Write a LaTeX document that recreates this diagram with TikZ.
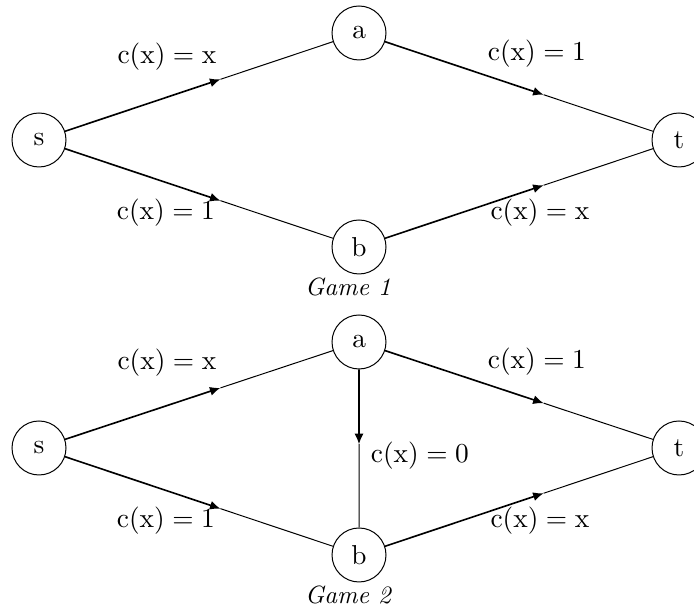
\documentclass[tikz,border=0pt]{standalone}
\usetikzlibrary{arrows.meta,calc}
\newcommand{\up}[1]{\mathrm{#1}}
\newcommand{\cx}[1]{$\up{c}(\up{x}) = #1$}
\begin{document}
\begin{tikzpicture}[x=0.4pt,y=-0.4pt,
  vert/.style={circle,draw,line width=0.4pt,minimum size=21.6pt,inner sep=0pt,font=\fontsize{10.5}{12}\selectfont},
  firsthalf/.style={line width=0.65pt,-{Latex[length=4.2pt,width=3.6pt]}},
  secondhalf/.style={line width=0.4pt},
  lbl/.style={inner sep=0pt,font=\fontsize{10.5}{12}\selectfont},
  gamecaption/.style={inner sep=0pt,font=\itshape}]
\useasboundingbox (0,0) rectangle (694,610);
% Game 1
\node[vert] (s1) at (39,140) {$\up{s}$};
\node[vert] (a1) at (359,33) {$\up{a}$};
\node[vert] (b1) at (359,247) {$\up{b}$};
\node[vert] (t1) at (679,140) {$\up{t}$};
\coordinate (m1) at ($(s1)!0.567!(a1)$);
\coordinate (m2) at ($(s1)!0.567!(b1)$);
\coordinate (m3) at ($(a1)!0.577!(t1)$);
\coordinate (m4) at ($(b1)!0.577!(t1)$);
\draw[firsthalf] (s1) -- (m1); \draw[secondhalf] (m1) -- (a1);
\draw[firsthalf] (s1) -- (m2); \draw[secondhalf] (m2) -- (b1);
\draw[firsthalf] (a1) -- (m3); \draw[secondhalf] (m3) -- (t1);
\draw[firsthalf] (b1) -- (m4); \draw[secondhalf] (m4) -- (t1);
\node[lbl] (l1) at (167,57) {\cx{\up{x}}};
\node[lbl] (l2) at (166,213) {\cx{1}};
\node[lbl] (l3) at (537,54) {\cx{1}};
\node[lbl] (l4) at (540,213) {\cx{\up{x}}};
\node[gamecaption] (g1) at (348,287) {Game 1};
% Game 2
\node[vert] (s2) at (39,448) {$\up{s}$};
\node[vert] (a2) at (359,342) {$\up{a}$};
\node[vert] (b2) at (359,555) {$\up{b}$};
\node[vert] (t2) at (679,448) {$\up{t}$};
\coordinate (n1) at ($(s2)!0.567!(a2)$);
\coordinate (n2) at ($(s2)!0.567!(b2)$);
\coordinate (n3) at ($(a2)!0.577!(t2)$);
\coordinate (n4) at ($(b2)!0.577!(t2)$);
\coordinate (n5) at ($(a2)!0.48!(b2)$);
\draw[firsthalf] (s2) -- (n1); \draw[secondhalf] (n1) -- (a2);
\draw[firsthalf] (s2) -- (n2); \draw[secondhalf] (n2) -- (b2);
\draw[firsthalf] (a2) -- (n3); \draw[secondhalf] (n3) -- (t2);
\draw[firsthalf] (b2) -- (n4); \draw[secondhalf] (n4) -- (t2);
\draw[firsthalf] (a2) -- (n5); \draw[secondhalf] (n5) -- (b2);
\node[lbl] (k1) at (167,363) {\cx{\up{x}}};
\node[lbl] (k2) at (166,521) {\cx{1}};
\node[lbl] (k3) at (537,362) {\cx{1}};
\node[lbl] (k4) at (540,521) {\cx{\up{x}}};
\node[lbl] (k5) at (420,456) {\cx{0}};
\node[gamecaption] (g2) at (348,595) {Game 2};
\end{tikzpicture}
\end{document}
